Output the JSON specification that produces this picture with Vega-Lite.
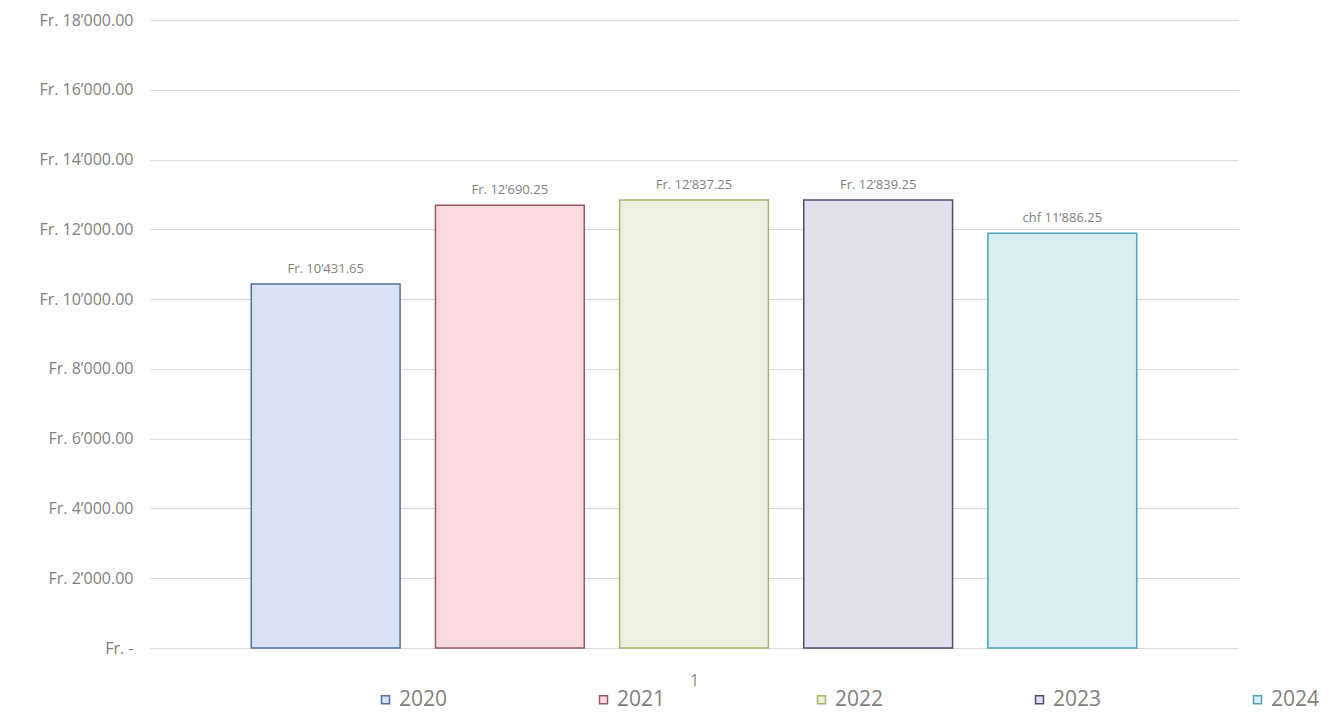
{
  "$schema": "https://vega.github.io/schema/vega-lite/v6.json",
  "width": 1088,
  "height": 628,
  "autosize": {"type": "none"},
  "padding": {"left": 150, "top": 20, "right": 95, "bottom": 67},
  "background": "white",
  "config": {"view": {"stroke": null}, "font": "Open Sans"},
  "data": {
    "values": [
      {"year": "2020", "amount": 10431.65, "label": "Fr. 10’431.65"},
      {"year": "2021", "amount": 12690.25, "label": "Fr. 12’690.25"},
      {"year": "2022", "amount": 12837.25, "label": "Fr. 12’837.25"},
      {"year": "2023", "amount": 12839.25, "label": "Fr. 12’839.25"},
      {"year": "2024", "amount": 11886.25, "label": "chf 11’886.25"}
    ]
  },
  "encoding": {
    "x": {
      "field": "year",
      "type": "nominal",
      "scale": {"paddingInner": 0.192, "paddingOuter": 0.55},
      "axis": {
        "labels": false,
        "ticks": false,
        "domain": false,
        "title": "1",
        "titleFontSize": 16,
        "titleColor": "#8c8c8c",
        "titleFontWeight": "normal",
        "titlePadding": 24
      }
    },
    "y": {
      "field": "amount",
      "type": "quantitative",
      "scale": {"domain": [0, 18000]},
      "axis": {
        "values": [0, 2000, 4000, 6000, 8000, 10000, 12000, 14000, 16000, 18000],
        "labelExpr": "datum.value == 0 ? 'Fr. -' : 'Fr. ' + replace(format(datum.value, ',.2f'), ',', '’')",
        "labelFontSize": 16,
        "labelColor": "#7f7f7f",
        "labelPadding": 17,
        "ticks": false,
        "domain": false,
        "gridColor": "#d9d9d9",
        "title": null
      }
    }
  },
  "layer": [
    {
      "mark": {"type": "bar", "strokeWidth": 1.5},
      "encoding": {
        "fill": {
          "field": "year",
          "type": "nominal",
          "scale": {"domain": ["2020", "2021", "2022", "2023", "2024"], "range": ["#dae3f3", "#f6dadd", "#ebf1de", "#e4dfec", "#daeef3"]},
          "legend": {
            "orient": "none",
            "legendX": 225,
            "legendY": 669,
            "direction": "horizontal",
            "columns": 5,
            "title": null,
            "symbolType": "square",
            "symbolSize": 64,
            "symbolStrokeWidth": 1.5,
            "labelFontSize": 21,
            "labelColor": "#7f7f7f",
            "labelOffset": 3,
            "columnPadding": 145,
            "gridAlign": "all"
          }
        },
        "stroke": {
          "field": "year",
          "type": "nominal",
          "scale": {"domain": ["2020", "2021", "2022", "2023", "2024"], "range": ["#4f6ea8", "#9a5a60", "#a7b46a", "#524c74", "#4aa3b8"]},
          "legend": {
            "orient": "none",
            "legendX": 225,
            "legendY": 669,
            "direction": "horizontal",
            "columns": 5,
            "title": null,
            "symbolType": "square",
            "symbolSize": 64,
            "symbolStrokeWidth": 1.5,
            "labelFontSize": 21,
            "labelColor": "#7f7f7f",
            "labelOffset": 3,
            "columnPadding": 145,
            "gridAlign": "all"
          }
        }
      }
    },
    {
      "mark": {"type": "text", "baseline": "bottom", "dy": -8, "fontSize": 13, "color": "#7f7f7f"},
      "encoding": {"text": {"field": "label"}}
    }
  ]
}
